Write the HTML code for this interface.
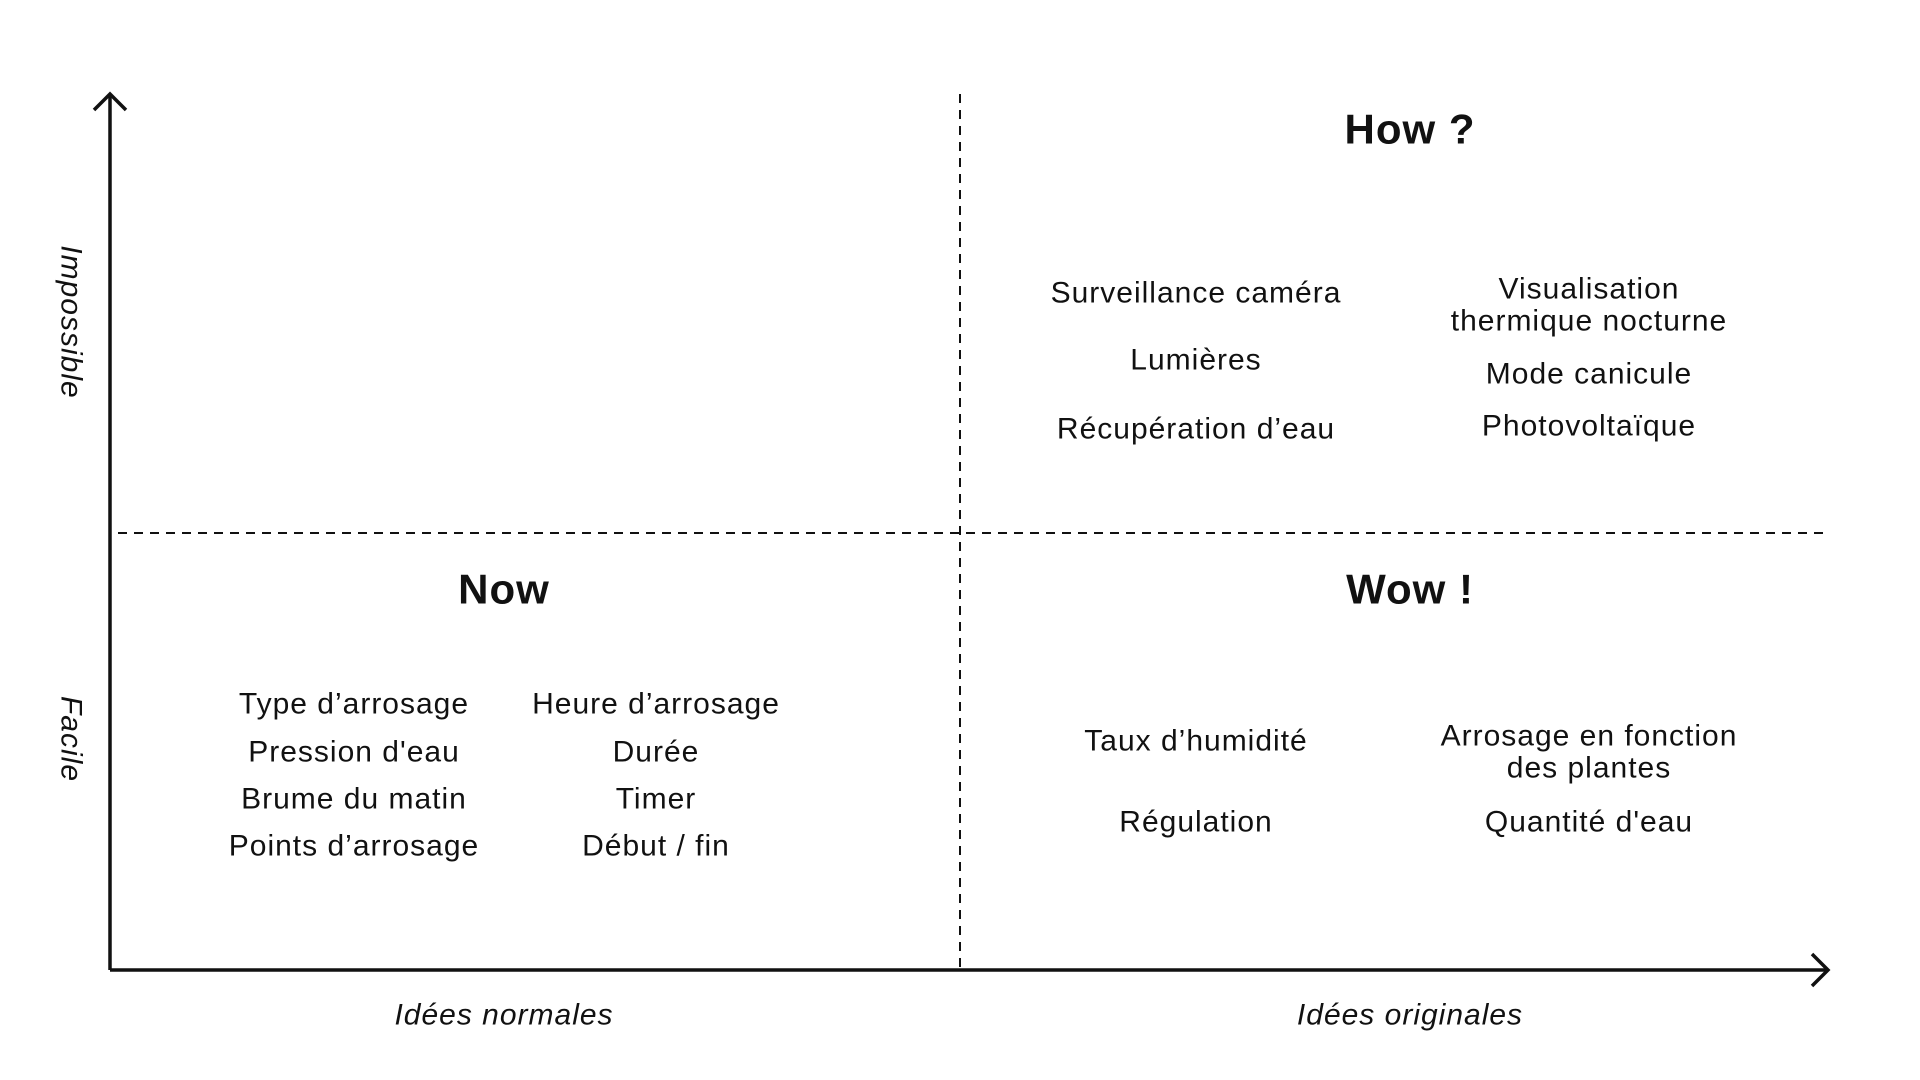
<!DOCTYPE html>
<html><head><meta charset="utf-8"><style>html,body{margin:0;padding:0;background:#fff}svg{display:block}</style></head>
<body>
<svg width="1920" height="1080" viewBox="0 0 1920 1080" xmlns="http://www.w3.org/2000/svg" font-family="Liberation Sans, sans-serif" fill="#111">
<g stroke="#111" fill="none">
<line x1="110" y1="94" x2="110" y2="970" stroke-width="3.5"/>
<line x1="110" y1="970" x2="1828" y2="970" stroke-width="3.5"/>
<polyline points="94,110 110,94 126,110" stroke-width="3.5"/>
<polyline points="1812,954 1828,970 1812,986" stroke-width="3.5"/>
<line x1="960" y1="94" x2="960" y2="970" stroke-width="2" stroke-dasharray="9,7"/>
<line x1="118" y1="533" x2="1828" y2="533" stroke-width="2" stroke-dasharray="9,7"/>
</g>
<g text-anchor="middle" dominant-baseline="central" font-weight="bold" font-size="42" letter-spacing="1">
<text x="1410" y="129">How ?</text>
<text x="504" y="589">Now</text>
<text x="1410" y="589">Wow !</text>
</g>
<g text-anchor="middle" dominant-baseline="central" font-size="30" letter-spacing="1">
<text x="354" y="704">Type d’arrosage</text>
<text x="354" y="752">Pression d'eau</text>
<text x="354" y="799">Brume du matin</text>
<text x="354" y="846">Points d’arrosage</text>
<text x="656" y="704">Heure d’arrosage</text>
<text x="656" y="752">Durée</text>
<text x="656" y="799">Timer</text>
<text x="656" y="846">Début / fin</text>
<text x="1196" y="293">Surveillance caméra</text>
<text x="1196" y="360">Lumières</text>
<text x="1196" y="429">Récupération d’eau</text>
<text x="1589" y="289">Visualisation</text>
<text x="1589" y="321">thermique nocturne</text>
<text x="1589" y="374">Mode canicule</text>
<text x="1589" y="426">Photovoltaïque</text>
<text x="1196" y="741">Taux d’humidité</text>
<text x="1196" y="822">Régulation</text>
<text x="1589" y="736">Arrosage en fonction</text>
<text x="1589" y="768">des plantes</text>
<text x="1589" y="822">Quantité d'eau</text>
</g>
<g text-anchor="middle" dominant-baseline="central" font-size="30" font-style="italic" letter-spacing="1">
<text x="504" y="1015">Idées normales</text>
<text x="1410" y="1015">Idées originales</text>
<text transform="translate(71,322) rotate(90)">Impossible</text>
<text transform="translate(71,739) rotate(90)">Facile</text>
</g>
</svg>
</body></html>
